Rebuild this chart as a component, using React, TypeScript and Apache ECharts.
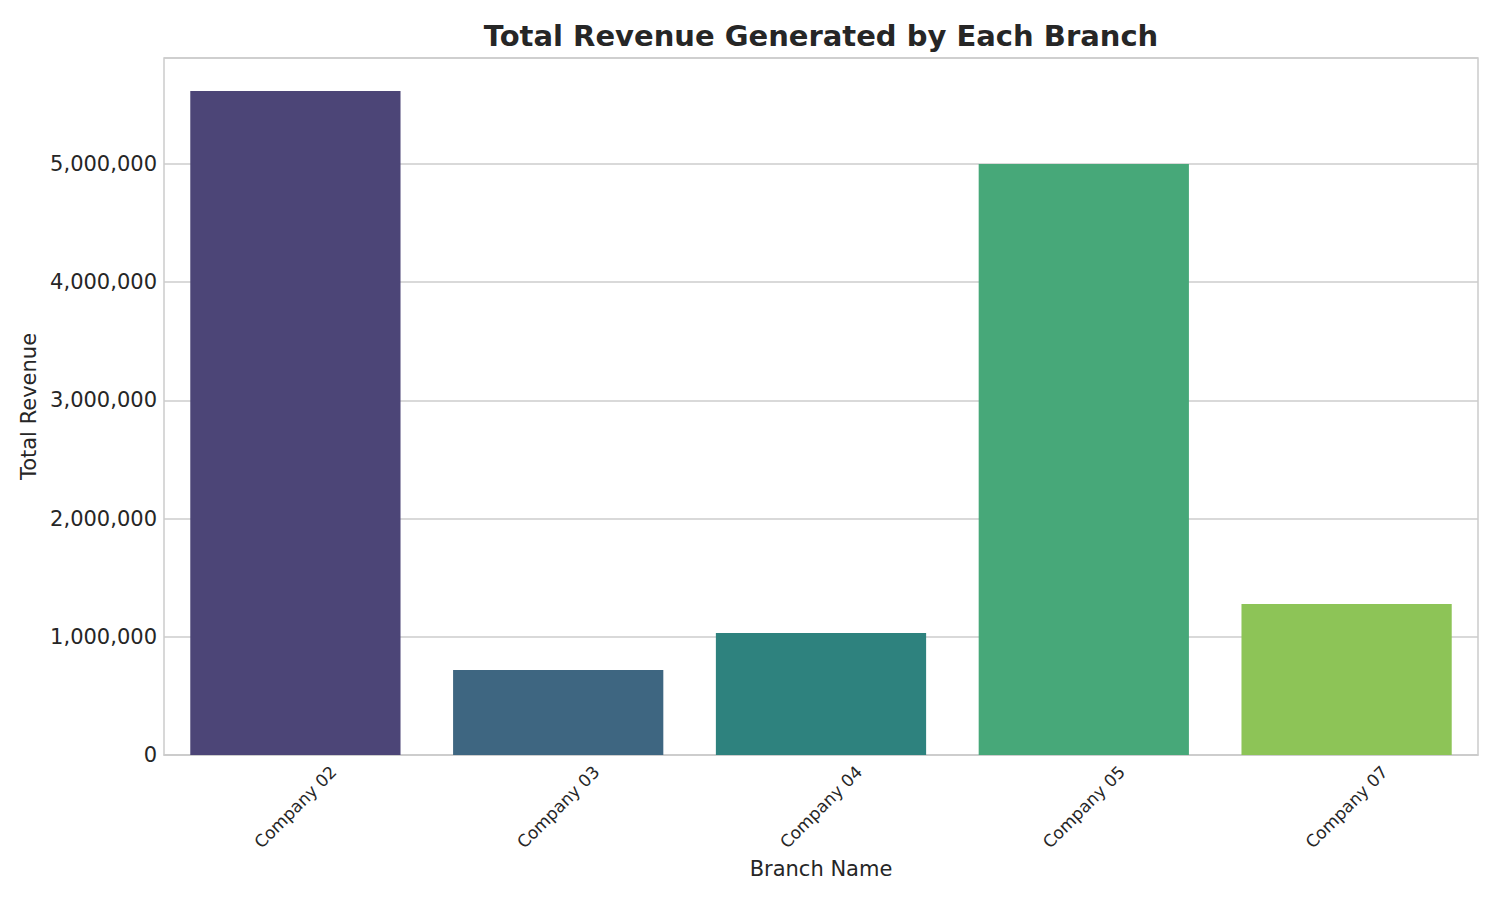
import React, { useEffect, useRef } from "react";
import * as echarts from "echarts";

const categories = ["Company 02", "Company 03", "Company 04", "Company 05", "Company 07"];
const revenues = [5618000, 719000, 1032000, 5000000, 1277000];
const barColors = ["#4c4577", "#3e6681", "#2e827e", "#47a879", "#8dc457"];
const yTicks = [0, 1000000, 2000000, 3000000, 4000000, 5000000];

const fmt = (v: number) => v.toLocaleString("en-US");

export default function App() {
  const ref = useRef<HTMLDivElement>(null);
  useEffect(() => {
    if (!ref.current) return;
    const chart = echarts.init(ref.current, undefined, { renderer: "svg" });
    const font = "DejaVu Sans";
    chart.setOption({
      animation: false,
      backgroundColor: "#ffffff",
      title: {
        text: "Total Revenue Generated by Each Branch",
        left: 816,
        top: 16,
        textAlign: "center",
        textStyle: { fontFamily: font, fontSize: 29, fontWeight: "bold", color: "#262626" },
      },
      grid: {
        left: 164,
        right: 22,
        top: 58,
        bottom: 145,
        show: true,
        borderColor: "#cccccc",
        borderWidth: 1.5,
        backgroundColor: "transparent",
      },
      xAxis: {
        type: "category",
        data: categories,
        name: "Branch Name",
        nameLocation: "middle",
        nameGap: 99,
        nameTextStyle: { fontFamily: font, fontSize: 21, color: "#262626" },
        axisLine: { show: true, lineStyle: { color: "#cccccc", width: 1.5 } },
        axisTick: { show: false },
        splitLine: { show: false },
        axisLabel: {
          rotate: 45,
          align: "center",
          verticalAlign: "middle",
          margin: 52,
          fontFamily: font,
          fontSize: 17,
          color: "#262626",
          interval: 0,
        },
      },
      yAxis: {
        type: "value",
        min: 0,
        max: 5897000,
        interval: 1000000,
        name: "Total Revenue",
        nameLocation: "middle",
        nameGap: 118,
        nameTextStyle: { fontFamily: font, fontSize: 21, color: "#262626" },
        axisLine: { show: false },
        axisTick: { show: false },
        splitLine: { show: true, lineStyle: { color: "#cccccc", width: 1.5 } },
        axisLabel: {
          margin: 7,
          fontFamily: font,
          fontSize: 21,
          color: "#262626",
          formatter: (v: number) => (yTicks.includes(v) ? fmt(v) : ""),
        },
      },
      series: [
        {
          type: "bar",
          data: revenues.map((v, i) => ({ value: v, itemStyle: { color: barColors[i] } })),
          barWidth: "80%",
        },
      ],
    });
    return () => chart.dispose();
  }, []);
  return (
    <div
      ref={ref}
      style={{ position: "fixed", left: 0, top: 0, width: 1500, height: 900 }}
    />
  );
}
